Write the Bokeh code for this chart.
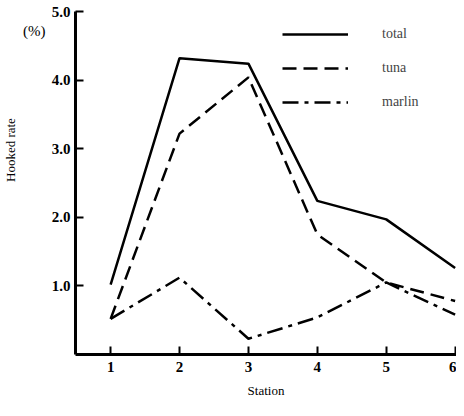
from bokeh.plotting import figure
from bokeh.models import (Legend, LegendItem, FixedTicker, ColumnDataSource,
                          LinearAxis)
from bokeh.embed import file_html
from bokeh.resources import INLINE

stations = [1, 2, 3, 4, 5, 6]
total = [1.02, 4.32, 4.24, 2.24, 1.97, 1.26]
tuna = [0.52, 3.22, 4.04, 1.75, 1.05, 0.78]
marlin = [0.52, 1.12, 0.23, 0.54, 1.05, 0.58]
y_ticks = [1, 2, 3, 4, 5]
y_tick_labels = {1: "1.0", 2: "2.0", 3: "3.0", 4: "4.0", 5: "5.0"}

# vertical placement (in y units) of the two left-hand texts
UNIT_POS = 4.72
TITLE_POS = 2.98

SERIF = "serif"

p = figure(width=456, height=404, x_range=(0.49, 6.02), y_range=(0, 5.0),
           output_backend="svg", toolbar_location=None,
           min_border_left=71, min_border_top=11, min_border_right=0,
           min_border_bottom=50)
p.outline_line_color = None
p.grid.visible = False

src = ColumnDataSource(dict(x=stations, total=total, tuna=tuna, marlin=marlin))
r_total = p.line("x", "total", source=src, line_color="black", line_width=2.5)
r_tuna = p.line("x", "tuna", source=src, line_color="black", line_width=2.5,
                line_dash="14 7")
r_marlin = p.line("x", "marlin", source=src, line_color="black", line_width=2.5,
                  line_dash="16 6 4 6")

for ax in (p.xaxis[0], p.yaxis[0]):
    ax.axis_line_width = 3
    ax.axis_line_color = "black"
    ax.major_tick_line_width = 2
    ax.major_tick_in = 8
    ax.major_tick_out = 0
    ax.minor_tick_line_color = None
    ax.major_label_text_font = SERIF
    ax.major_label_text_font_size = "15px"
    ax.major_label_text_font_style = "bold"
    ax.major_label_text_color = "black"
    ax.axis_label_text_font = SERIF
    ax.axis_label_text_font_style = "normal"
    ax.axis_label_text_color = "black"

p.xaxis.ticker = FixedTicker(ticks=stations)
p.xaxis.major_label_standoff = 7
p.xaxis.axis_label = "Station"
p.xaxis.axis_label_text_font_size = "13px"
p.xaxis.axis_label_standoff = 8

p.yaxis.ticker = FixedTicker(ticks=y_ticks)
p.yaxis.major_label_overrides = y_tick_labels
p.yaxis.major_label_standoff = 5


def text_axis(pos, text, size, standoff, orientation):
    ax = LinearAxis(ticker=FixedTicker(ticks=[pos]),
                    major_label_overrides={pos: text},
                    axis_line_color=None, major_tick_line_color=None,
                    minor_tick_line_color=None, major_tick_in=0, major_tick_out=0,
                    minor_tick_in=0, minor_tick_out=0,
                    major_label_text_font=SERIF,
                    major_label_text_font_size=size,
                    major_label_text_color="black",
                    major_label_standoff=standoff,
                    major_label_orientation=orientation)
    p.add_layout(ax, "left")
    return ax


text_axis(UNIT_POS, "(%)", "15px", 3, "horizontal")
text_axis(TITLE_POS, "Hooked rate", "13px", 2, "vertical")

legend = Legend(items=[
    LegendItem(label="total", renderers=[r_total]),
    LegendItem(label="tuna", renderers=[r_tuna]),
    LegendItem(label="marlin", renderers=[r_marlin]),
], location=(207, 242), orientation="vertical",
    glyph_width=66, glyph_height=20, label_standoff=34, spacing=14,
    padding=0, margin=0, border_line_color=None, background_fill_alpha=0,
    label_text_font=SERIF, label_text_font_size="14px", label_height=20)
p.add_layout(legend)

open("out.html", "w").write(file_html(p, INLINE))
